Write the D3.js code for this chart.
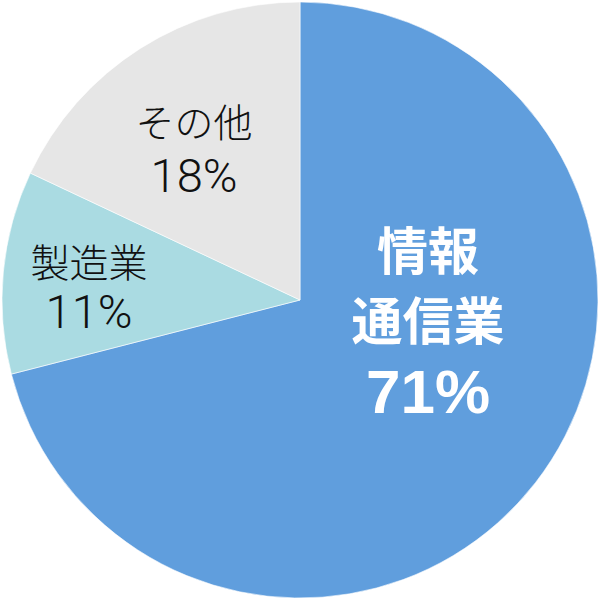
<!DOCTYPE html>
<html><head><meta charset="utf-8">
<script src="https://cdn.jsdelivr.net/npm/d3@7"></script>
<style>body{margin:0;background:#fff}</style>
</head><body>
<svg id="c" width="600" height="600"></svg>
<script>
const categories = ["情報通信業", "製造業", "その他"];
const values = [71, 11, 18];
const nameLines = [["情報", "通信業"], ["製造業"], ["その他"]];
const colors = ["#609edd", "#aadbe2", "#e6e6e6"];

const svg = d3.select("#c");
const g = svg.append("g").attr("transform", "translate(300,300)");
const pie = d3.pie().sort(null).value(d => d)(values);
const arc = d3.arc().innerRadius(0).outerRadius(298);
g.selectAll("path").data(pie).join("path")
  .attr("d", arc).attr("fill", (d, i) => colors[i])
  .attr("stroke", "#ffffff").attr("stroke-width", 0.6);

const boldFont = "'Liberation Sans', 'Noto Sans CJK JP', sans-serif";
const lightFont = "Roboto, 'Noto Sans CJK JP', sans-serif";
const cfg = [
  {font: boldFont, nameSize: 51, pctSize: 62, weight: 700, fill: "#ffffff", lh: 70, pctGap: 73},
  {font: lightFont, nameSize: 39, pctSize: 47, weight: 300, fill: "#111111", lh: 50, pctGap: 51},
  {font: lightFont, nameSize: 39, pctSize: 47, weight: 300, fill: "#111111", lh: 50, pctGap: 55}
];
const anchors = [[128, -30], [-211, -23], [-106, -163]];
pie.forEach((p, i) => {
  const c = cfg[i];
  const [ax, ay] = anchors[i];
  const t = g.append("text").attr("transform", `translate(${ax},${ay})`)
    .attr("text-anchor", "middle").attr("font-family", c.font)
    .attr("font-weight", c.weight).attr("fill", c.fill);
  const lines = nameLines[i];
  lines.forEach((ln, j) => {
    t.append("tspan").attr("x", 0).attr("y", j * c.lh)
      .attr("font-size", c.nameSize).text(ln);
  });
  t.append("tspan").attr("x", 0).attr("y", (lines.length - 1) * c.lh + c.pctGap)
    .attr("font-size", c.pctSize).text(values[i] + "%");
});
</script>
</body></html>
